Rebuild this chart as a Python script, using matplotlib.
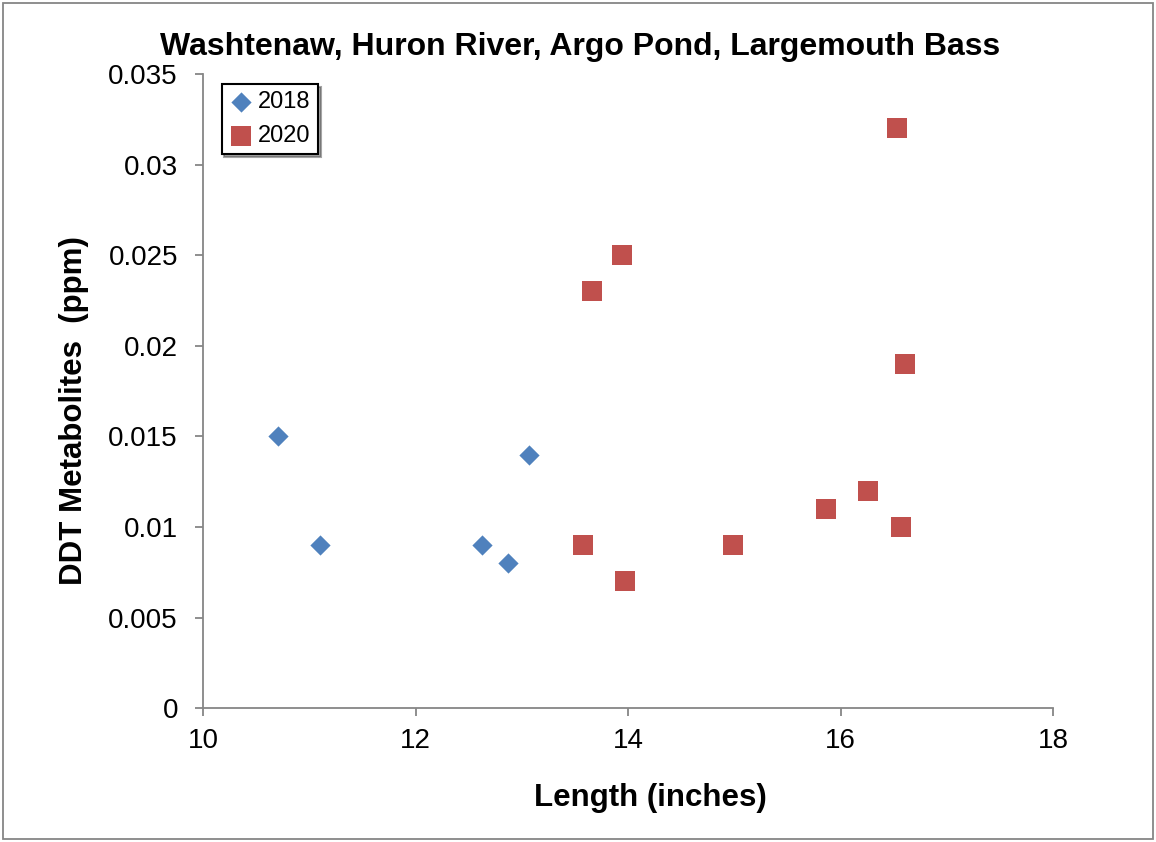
import matplotlib

matplotlib.use("Agg")
import matplotlib.pyplot as plt
from matplotlib.patches import Rectangle
from matplotlib.ticker import FuncFormatter, MultipleLocator

# DDT metabolites in Argo Pond largemouth bass
len_2018 = [10.71, 11.10, 12.63, 12.87, 13.07]
ddt_2018 = [0.015, 0.009, 0.009, 0.008, 0.014]

len_2020 = [16.53, 13.94, 13.66, 16.61, 16.26, 15.86, 16.57, 13.58, 14.99, 13.97]
ddt_2020 = [0.032, 0.025, 0.023, 0.019, 0.012, 0.011, 0.010, 0.009, 0.009, 0.007]

TITLE = "Washtenaw, Huron River, Argo Pond, Largemouth Bass"
XLABEL = "Length (inches)"
YLABEL = "DDT Metabolites  (ppm)"

BLUE = "#4F81BD"
RED = "#C0504D"
AXIS = "#868686"

plt.rcParams.update(
    {
        "font.family": ["Liberation Sans", "DejaVu Sans"],
        "font.size": 20,
    }
)

fig = plt.figure(figsize=(11.56, 8.42), dpi=100)
ax = fig.add_axes([0.1756, 0.1588, 0.7354, 0.7533])

ax.scatter(len_2018, ddt_2018, marker="D", s=10.3**2, color=BLUE, linewidths=0, label="2018", zorder=3)
ax.scatter(len_2020, ddt_2020, marker="s", s=14.5**2, color=RED, linewidths=0, label="2020", zorder=3)

ax.set_xlim(10, 18)
ax.set_ylim(0, 0.035)
ax.xaxis.set_major_locator(MultipleLocator(2))
ax.yaxis.set_major_locator(MultipleLocator(0.005))
ax.yaxis.set_major_formatter(FuncFormatter(lambda v, _: f"{v:g}" if abs(v) > 1e-12 else "0"))

for side in ("top", "right"):
    ax.spines[side].set_visible(False)
for side in ("left", "bottom"):
    ax.spines[side].set_color(AXIS)
    ax.spines[side].set_linewidth(1.3)
ax.tick_params(direction="out", length=6, width=1.3, color=AXIS, labelsize=20)
ax.tick_params(axis="y", pad=12)
ax.tick_params(axis="x", pad=8)

# chart title is centred on the whole chart area, not on the plot area
fig.text(0.5017, 0.9347, TITLE, fontsize=23, fontweight="bold", ha="center", va="baseline")

ax.set_xlabel(XLABEL, fontsize=22.5, fontweight="bold")
ax.xaxis.set_label_coords(0.526, -0.141, transform=ax.transAxes)
ax.xaxis.label.set_va("center")
ax.set_ylabel(YLABEL, fontsize=22.5, fontweight="bold")
ax.yaxis.set_label_coords(-0.152, 0.47, transform=ax.transAxes)
ax.yaxis.label.set_va("center")

leg = ax.legend(
    loc="upper left",
    bbox_to_anchor=(0.022, 0.984),
    frameon=True,
    fancybox=False,
    shadow=True,
    fontsize=17,
    handletextpad=0.25,
    handlelength=1.0,
    borderpad=0.3,
    labelspacing=0.5,
    borderaxespad=0,
)
leg.get_frame().set_edgecolor("black")
leg.get_frame().set_linewidth(1.5)

fig.patches.append(
    Rectangle((0.003, 0.004), 0.994, 0.992, transform=fig.transFigure,
              fill=False, edgecolor=AXIS, linewidth=1.3)
)

fig.savefig("out.png", dpi=100)
